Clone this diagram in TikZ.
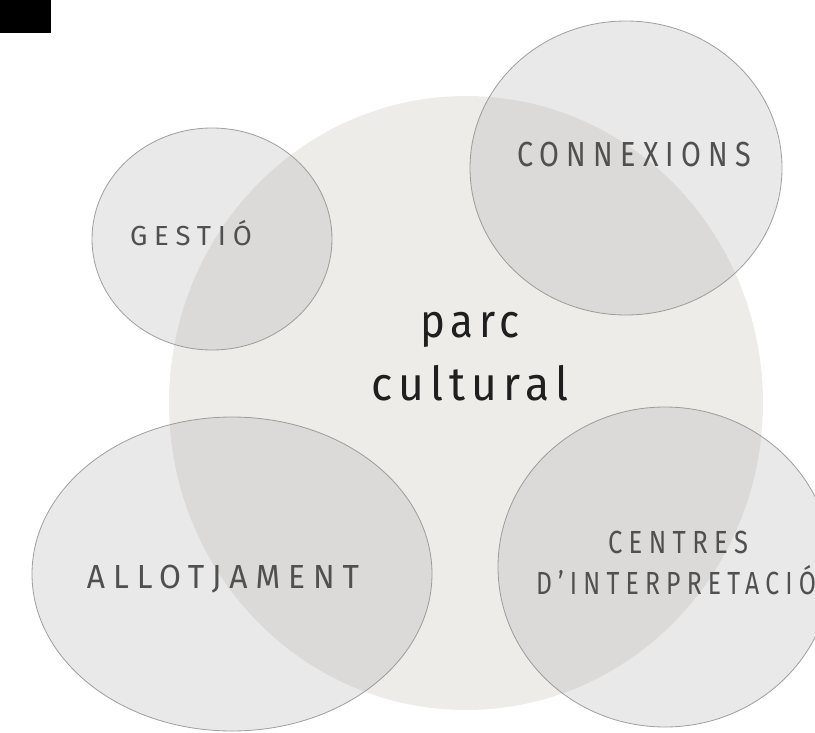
\documentclass[tikz,border=0pt]{standalone}
\usepackage{fontspec}
\usepackage{graphicx}
\newfontfamily\bubblefont[LetterSpace=25]{Fira Sans}
\newfontfamily\parcfont[LetterSpace=14]{Fira Sans}
\usetikzlibrary{positioning}
\definecolor{parcbeige}{RGB}{238,236,233}
\definecolor{bubblegray}{RGB}{162,162,164}
\definecolor{rimgray}{RGB}{140,140,140}
\definecolor{labelgray}{RGB}{80,80,80}
\newlength{\pxl}
\setlength{\pxl}{0.03cm}
% squeeze a label to a given width (in pixels), keep its height
\newcommand{\stretchto}[2]{\resizebox{#1\pxl}{\height}{#2}}
\tikzset{
  parcdisc/.style={fill=parcbeige},
  bubble/.style={fill=bubblegray, fill opacity=0.24, draw=rimgray, draw opacity=0.8, line width=0.7pt},
  bubblelabel/.style={text=labelgray, anchor=base, inner sep=0pt},
  parclabel/.style={text=black!88, anchor=base, inner sep=0pt,
    font=\parcfont\fontsize{40}{44}\selectfont},
}

\begin{document}
\begin{tikzpicture}[x=0.03cm, y=-0.03cm]
  \useasboundingbox (0,0) rectangle (815,733);
  \clip (0,0) rectangle (815,733);
  \fill[black] (0,0) rectangle (51,33);
  % central disc
  \fill[parcdisc] (466,403) ellipse (297 and 307);
  % the four bubbles
  \filldraw[bubble] (212,239) ellipse (120 and 111);
  \filldraw[bubble] (626,168) ellipse (156 and 147);
  \filldraw[bubble] (232,574) ellipse (200 and 157);
  \filldraw[bubble] (665,567) ellipse (167 and 160);
  % labels
  \node[parclabel] (parc) at (470,337) {\stretchto{100}{parc}};
  \node[parclabel] (cultural) at (470,400) {\stretchto{197}{cultural}};
  \node[bubblelabel, font=\bubblefont\fontsize{23.5}{26}\selectfont] (gestio) at (191,245) {\stretchto{122}{GESTIÓ}};
  \node[bubblelabel, font=\bubblefont\fontsize{29.7}{32}\selectfont] (connexions) at (634,167) {\stretchto{234}{CONNEXIONS}};
  \node[bubblelabel, font=\bubblefont\fontsize{28.5}{31}\selectfont] (allotjament) at (223,588) {\stretchto{272}{ALLOTJAMENT}};
  \node[bubblelabel, font=\bubblefont\fontsize{27.3}{30}\selectfont] (centres) at (678,553) {\stretchto{140}{CENTRES}};
  \node[bubblelabel, font=\bubblefont\fontsize{27.3}{30}\selectfont] (interp) at (676,594) {\stretchto{280}{D’INTERPRETACIÓ}};
\end{tikzpicture}
\end{document}
